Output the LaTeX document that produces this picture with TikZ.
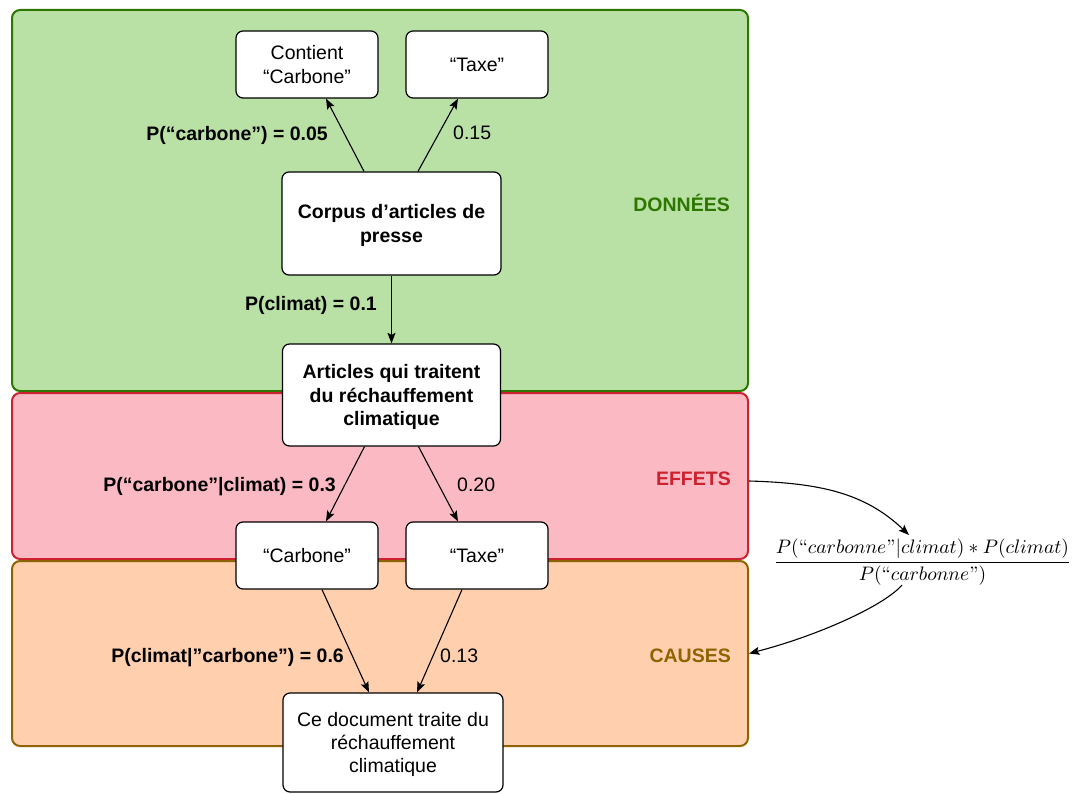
\documentclass[tikz,border=0pt]{standalone}
\usepackage{fontspec}
\usepackage{amsmath}
\usepackage{graphicx}
\newfontfamily\arial{Liberation Sans}
\usetikzlibrary{arrows.meta}
\definecolor{gfill}{HTML}{B9E0A5}
\definecolor{gline}{HTML}{2D7600}
\definecolor{rfill}{HTML}{FAB9C3}
\definecolor{rline}{HTML}{CC2230}
\definecolor{ofill}{HTML}{FFCFAE}
\definecolor{oline}{HTML}{8F6300}
\begin{document}
\begin{tikzpicture}[x=1pt,y=-1pt,
  every node/.style={font=\arial\fontsize{19.5}{23.2}\selectfont},
  region/.style={draw, line width=2pt, rounded corners=8pt, inner sep=0pt, minimum width=736pt},
  box/.style={draw, fill=white, line width=1.2pt, rounded corners=7pt, align=center, inner sep=0pt, text depth=0pt},
  smallbox/.style={box, minimum width=142pt, minimum height=67pt},
  lab/.style={inner sep=0pt},
  blab/.style={inner sep=0pt, font=\arial\bfseries\fontsize{19.5}{23.2}\selectfont},
  arr/.style={-{Stealth[length=10.5pt,width=8pt,inset=2pt]}, line width=1.1pt}
]
\useasboundingbox (0,0) rectangle (1078,794);
% regions
\node[region, fill=gfill, draw=gline, minimum height=381pt] (rdon) at (380,200.5) {};
\node[region, fill=rfill, draw=rline, minimum height=166pt] (reff) at (380,476) {};
\node[region, fill=ofill, draw=oline, minimum height=185pt] (rcau) at (380,653.5) {};
\node[blab, anchor=base east, text=gline] (tdon) at (730,211.5) {DONNÉES};
\node[blab, anchor=base east, text=rline] (teff) at (731,485) {EFFETS};
\node[blab, anchor=base east, text=oline] (tcau) at (731,662) {CAUSES};
% boxes
\node[smallbox] (contient) at (307,64.5) {Contient\\“Carbone”};
\node[smallbox] (taxeA) at (477,64.5) {“Taxe”};
\node[box, minimum width=219pt, minimum height=103pt, font=\arial\bfseries\fontsize{19.5}{23.2}\selectfont] (corpus) at (391.5,223.5) {Corpus d’articles de\\presse};
\node[box, minimum width=218pt, minimum height=102pt, font=\arial\bfseries\fontsize{19.5}{23.2}\selectfont] (articles) at (391.5,395) {Articles qui traitent\\du réchauffement\\climatique};
\node[smallbox] (carbone) at (307,555.5) {“Carbone”};
\node[smallbox] (taxeB) at (477,555.5) {“Taxe”};
\node[box, minimum width=220pt, minimum height=99pt] (doc) at (393,742.5) {Ce document traite du\\réchauffement\\climatique};
% formula
\node[inner sep=1pt, font=\rmfamily] (formula) at (922.5,562) {\scalebox{1.95}{$\dfrac{P(\text{``}carbonne\text{''}|climat)*P(climat)}{P(\text{``}carbonne\text{''})}$}};
% arrows
\draw[arr] ([xshift=-27.5pt]corpus.north) -- ([xshift=19pt]contient.south);
\draw[arr] ([xshift=26.5pt]corpus.north) -- ([xshift=-19pt]taxeA.south);
\draw[arr] (corpus.south) -- (articles.north);
\draw[arr] ([xshift=-27pt]articles.south) -- ([xshift=19pt]carbone.north);
\draw[arr] ([xshift=27pt]articles.south) -- ([xshift=-19pt]taxeB.north);
\draw[arr] ([xshift=15pt]carbone.south) -- ([xshift=-24pt]doc.north);
\draw[arr] ([xshift=-15pt]taxeB.south) -- ([xshift=24pt]doc.north);
\coordinate (c1s) at ([yshift=-5pt]reff.east);
\coordinate (c1e) at (909,535);
\draw[arr] (c1s) .. controls (820,483) and (865,493) .. (c1e);
\coordinate (c2s) at (902,585);
\draw[arr] (c2s) .. controls (885,605) and (820,635) .. (rcau.east);
% labels
\node[blab, anchor=base east] (l1) at (328,140.5) {P(“carbone”) = 0.05};
\node[lab, anchor=base west] (l2) at (453,140) {0.15};
\node[blab, anchor=base east] (l3) at (377,310) {P(climat) = 0.1};
\node[blab, anchor=base east] (l4) at (336,491.5) {P(“carbone”|climat) = 0.3};
\node[lab, anchor=base west] (l5) at (457,491.5) {0.20};
\node[blab, anchor=base east] (l6) at (344,662.5) {P(climat|”carbone”) = 0.6};
\node[lab, anchor=base west] (l7) at (440,662.5) {0.13};
\end{tikzpicture}
\end{document}
